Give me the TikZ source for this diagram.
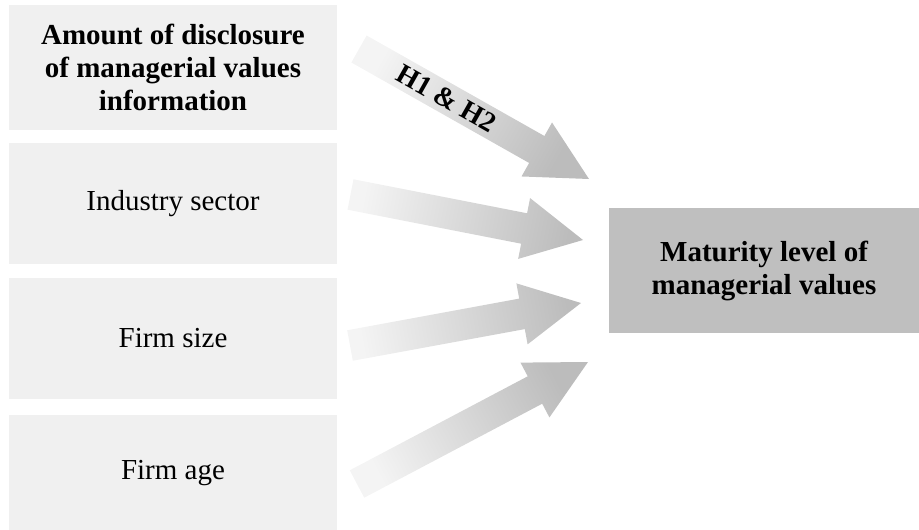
\documentclass[tikz,border=0pt]{standalone}
\usepackage{fontspec}
\setmainfont{Liberation Serif}
\usetikzlibrary{calc}

\definecolor{factorfill}{HTML}{F0F0F0}
\definecolor{outcomefill}{HTML}{BFBFBF}
\definecolor{arrowlight}{HTML}{F4F4F4}
\definecolor{arrowdark}{HTML}{BCBCBC}

\tikzset{
  factor/.style={fill=factorfill, minimum width=328pt, inner sep=0pt,
    align=center, font=\fontsize{29}{33}\selectfont},
  outcome/.style={fill=outcomefill, minimum width=310pt, minimum height=125pt,
    inner sep=0pt, align=center, font=\fontsize{29}{33}\selectfont\bfseries},
  arrowshade/.style={top color=arrowlight, bottom color=arrowdark},
  hyplabel/.style={font=\fontsize{28}{30}\selectfont\bfseries, inner sep=0pt},
}

% Broad block arrow from tail #1 to tip #2; #3 = shading angle
\newcommand\blockarrow[3]{%
  \coordinate (ab) at ($(#2)!60pt!(#1)$);
  \shade[arrowshade, shading angle=#3]
    ($(#1)!15.5pt!90:(#2)$) -- ($(ab)!15.5pt!90:(#2)$) --
    ($(ab)!31pt!90:(#2)$) -- (#2) -- ($(ab)!31pt!-90:(#2)$) --
    ($(ab)!15.5pt!-90:(#2)$) -- ($(#1)!15.5pt!-90:(#2)$) -- cycle;
}

\begin{document}
\begin{tikzpicture}[x=1pt, y=-1pt]
  \useasboundingbox (0,0) rectangle (919,530);

  % explanatory factors
  \node[factor, minimum height=125pt, font=\fontsize{29}{33}\selectfont\bfseries]
    (disc) at (173,67.5) {Amount of disclosure\\of managerial values\\information};
  \node[factor, minimum height=121pt] (ind)  at (173,203.5) {Industry sector};
  \node[factor, minimum height=121pt] (size) at (173,338.5) {Firm size};
  \node[factor, minimum height=117pt] (age)  at (173,473.5) {Firm age};

  % outcome
  \node[outcome] (mat) at (764,270.5) {Maturity level of\\managerial values};

  % arrow ends
  \coordinate (t1) at (359,49);    \coordinate (p1) at (589,179);
  \coordinate (t2) at (350.5,194.5); \coordinate (p2) at (583,240);
  \coordinate (t3) at (350,345.5); \coordinate (p3) at (581,303);
  \coordinate (t4) at (357,484);   \coordinate (p4) at (588,362);

  \blockarrow{t1}{p1}{60.5}
  \blockarrow{t2}{p2}{78.9}
  \blockarrow{t3}{p3}{100.4}
  \blockarrow{t4}{p4}{117.8}

  \path (t1) -- node[hyplabel, sloped, pos=0.38] (hyp) {H1 \& H2} (p1);
\end{tikzpicture}
\end{document}
